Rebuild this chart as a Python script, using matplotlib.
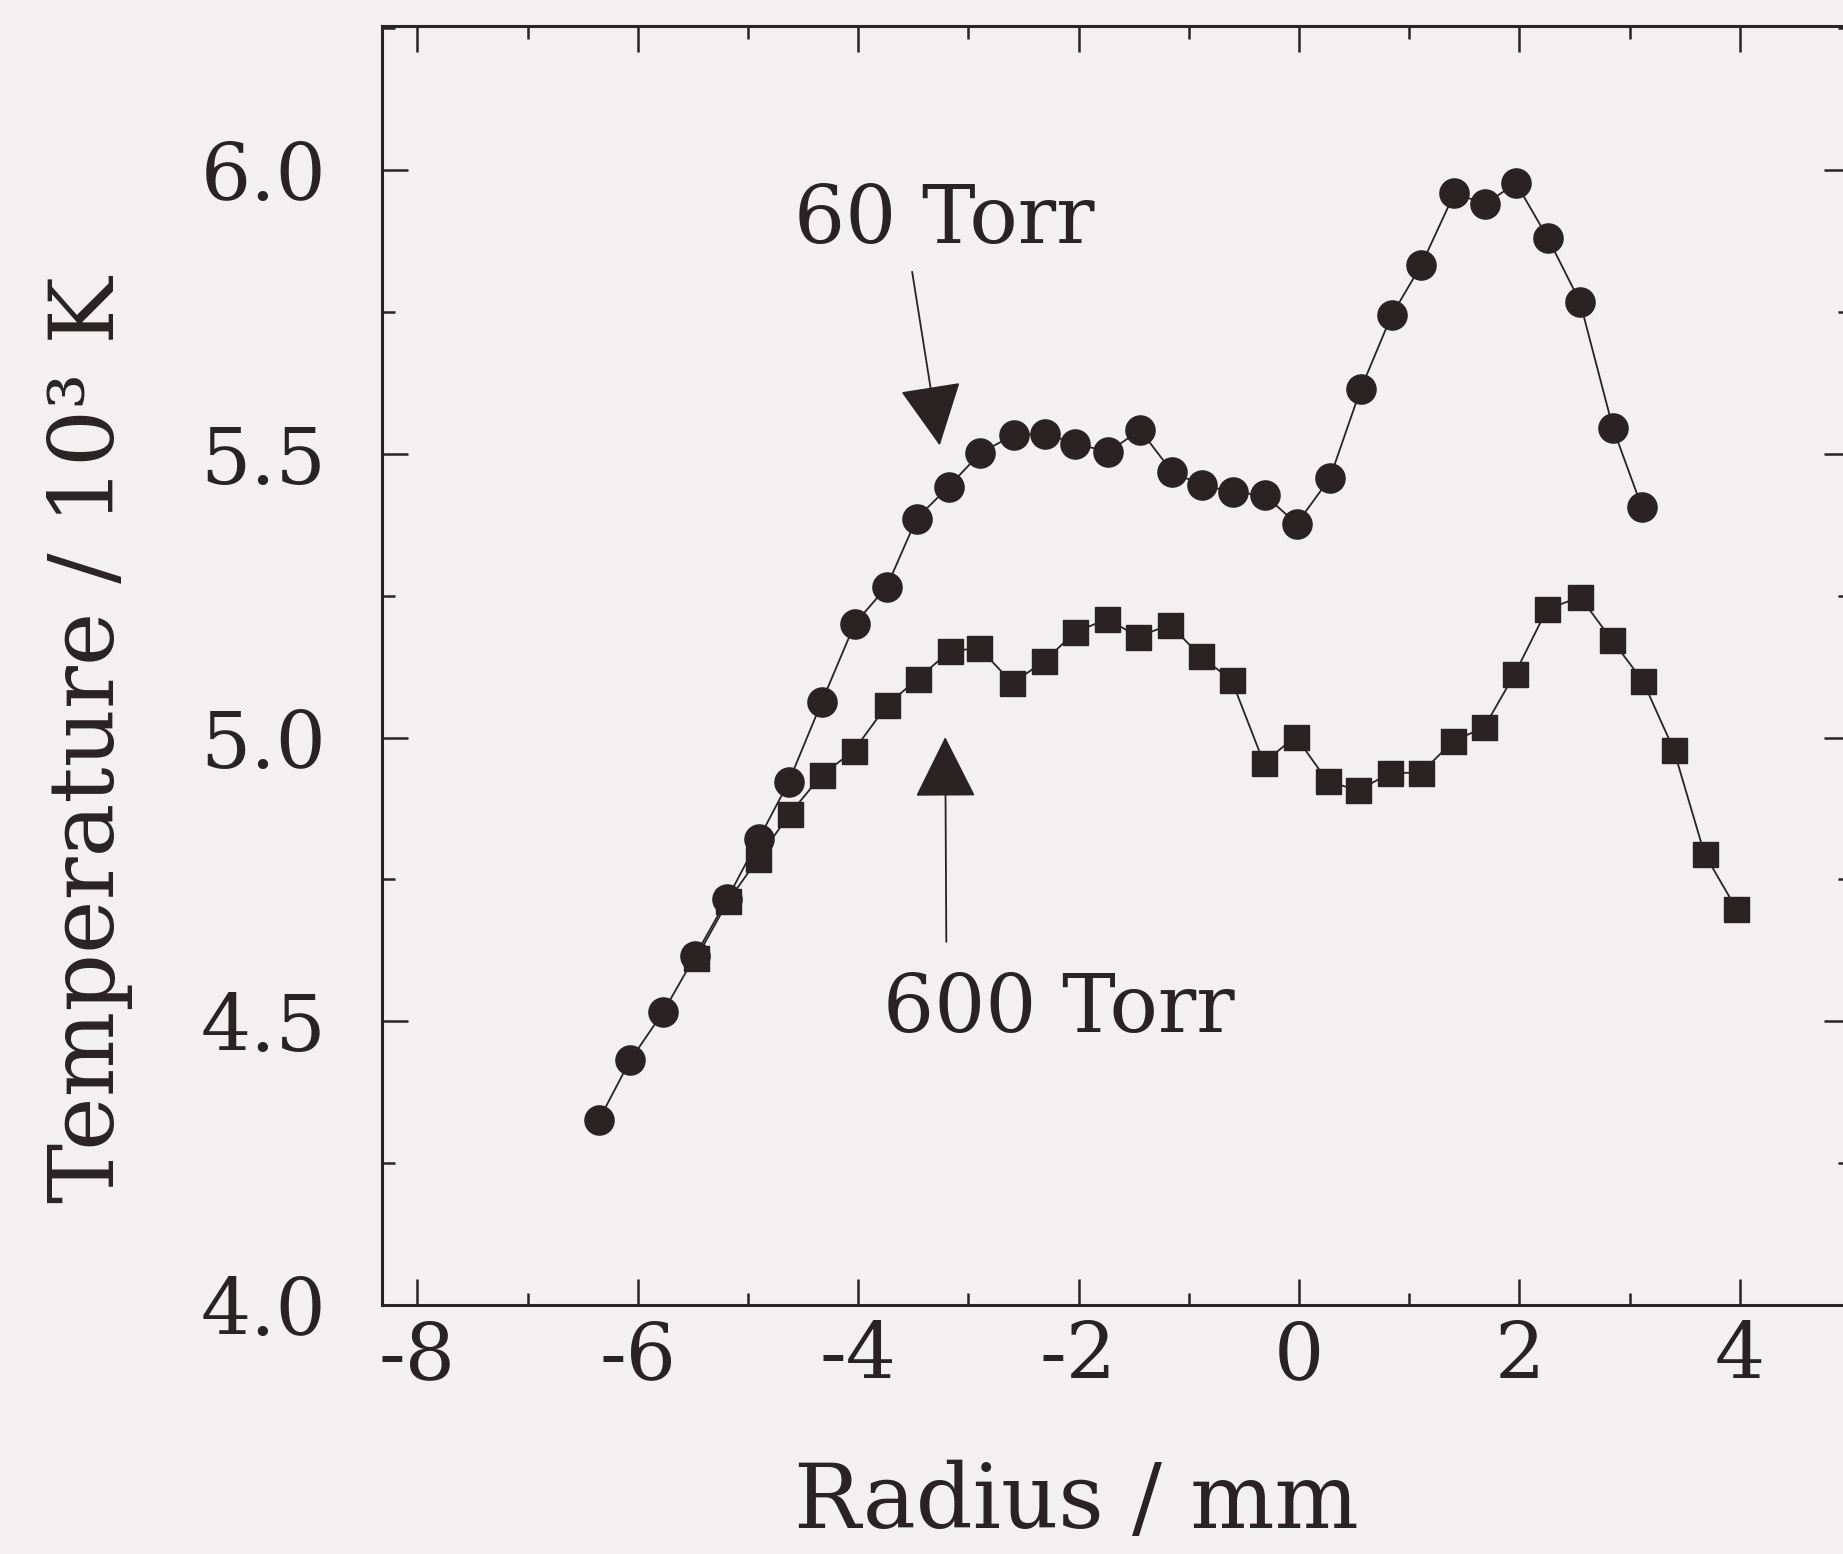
import matplotlib
matplotlib.use("Agg")
import matplotlib.pyplot as plt
from matplotlib.ticker import MultipleLocator

# radial temperature profiles
r_60 = [-6.35, -6.07, -5.77, -5.48, -5.19, -4.90, -4.63, -4.33, -4.03, -3.74,
        -3.47, -3.18, -2.89, -2.59, -2.30, -2.03, -1.73, -1.44, -1.15, -0.88,
        -0.60, -0.31, -0.02, 0.28, 0.56, 0.84, 1.11, 1.41, 1.69, 1.97,
        2.26, 2.55, 2.85, 3.11]
t_60 = [4.327, 4.431, 4.516, 4.615, 4.715, 4.822, 4.922, 5.063, 5.201, 5.266,
        5.386, 5.442, 5.502, 5.533, 5.536, 5.518, 5.504, 5.542, 5.468, 5.445,
        5.433, 5.427, 5.377, 5.457, 5.614, 5.744, 5.833, 5.959, 5.941, 5.977,
        5.880, 5.768, 5.545, 5.407]

r_600 = [-5.47, -5.18, -4.91, -4.62, -4.33, -4.04, -3.74, -3.46, -3.17, -2.90,
         -2.60, -2.31, -2.03, -1.74, -1.46, -1.17, -0.89, -0.61, -0.32, -0.03,
         0.26, 0.54, 0.83, 1.11, 1.40, 1.68, 1.96, 2.25, 2.55, 2.84,
         3.12, 3.40, 3.68, 3.97]
t_600 = [4.611, 4.712, 4.786, 4.866, 4.934, 4.977, 5.057, 5.104, 5.152, 5.158,
         5.096, 5.135, 5.186, 5.209, 5.178, 5.199, 5.143, 5.101, 4.956, 5.002,
         4.923, 4.907, 4.938, 4.938, 4.994, 5.018, 5.113, 5.226, 5.248, 5.172,
         5.100, 4.979, 4.795, 4.698]

xticks = [-8, -6, -4, -2, 0, 2, 4]
xticklabels = ["-8", "-6", "-4", "-2", "0", "2", "4"]
yticks = [4.0, 4.5, 5.0, 5.5, 6.0]
yticklabels = ["4.0", "4.5", "5.0", "5.5", "6.0"]

ink = "#2b2323"
paper = "#f2f0f0"

plt.rcParams["font.family"] = ["DejaVu Serif"]
plt.rcParams["axes.unicode_minus"] = False

fig = plt.figure(figsize=(18.43, 15.54), dpi=100, facecolor=paper)
ax = fig.add_axes([0.2073, 0.1602, 0.7965, 0.8230])
ax.set_facecolor(paper)

ax.plot(r_60, t_60, "-o", color=ink, lw=1.3, ms=21, zorder=3)
ax.plot(r_600, t_600, "-s", color=ink, lw=1.3, ms=18, zorder=4)

ax.set_xlim(-8.32, 5.0)
ax.set_ylim(4.0, 6.254)

ax.set_xticks(xticks)
ax.set_xticklabels(xticklabels)
ax.set_yticks(yticks)
ax.set_yticklabels(yticklabels)
ax.xaxis.set_minor_locator(MultipleLocator(1))
ax.yaxis.set_minor_locator(MultipleLocator(0.25))

ax.tick_params(which="both", direction="in", top=True, right=True,
               color=ink, labelcolor=ink, width=1.8)
ax.tick_params(which="major", length=19, labelsize=57)
ax.tick_params(which="minor", length=9)
ax.tick_params(axis="y", which="major", pad=40)
ax.tick_params(axis="x", which="major", pad=10)

for s in ax.spines.values():
    s.set_color(ink)
    s.set_linewidth(2.2)

ax.set_xlabel("Radius / mm", fontsize=64, color=ink, va="baseline")
ax.xaxis.set_label_coords(0.473, -0.174)
ax.set_ylabel("Temperature / 10³ K", fontsize=65, color=ink)
ax.yaxis.set_label_coords(-0.17, 0.442)

# pressure labels with arrows
ax.text(-3.22, 5.871, "60 Torr", fontsize=58, color=ink, ha="center", va="baseline")
ax.annotate("", xy=(-3.26, 5.515), xytext=(-3.51, 5.821),
            arrowprops=dict(arrowstyle="-|>,head_length=0.4,head_width=0.2",
                            mutation_scale=100, color=ink, lw=1.3,
                            shrinkA=0, shrinkB=0))
ax.text(-2.18, 4.481, "600 Torr", fontsize=58, color=ink, ha="center", va="baseline")
ax.annotate("", xy=(-3.21, 5.001), xytext=(-3.20, 4.640),
            arrowprops=dict(arrowstyle="-|>,head_length=0.4,head_width=0.2",
                            mutation_scale=100, color=ink, lw=1.3,
                            shrinkA=0, shrinkB=0))

fig.savefig("out.png", dpi=100, facecolor=paper)
